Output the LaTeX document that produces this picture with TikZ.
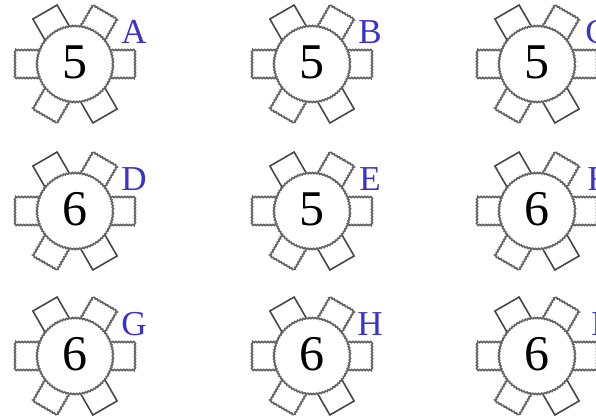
\documentclass[tikz,border=0pt]{standalone}
\usepackage{fontspec}
\setmainfont{Liberation Serif}
\usepackage{tikz}
\usetikzlibrary{positioning,decorations.pathmorphing}
\definecolor{letterblue}{HTML}{3A32CC}
\tikzset{
  chair/.style={draw=black!72,line width=1.6pt},
  fuzzy/.style={draw=black!60,line width=1.7pt,decorate,
    decoration={zigzag,amplitude=.55pt,segment length=3pt}},
  tabletop/.style={fuzzy,fill=white},
  seats/.style={font=\fontsize{50}{50}\selectfont,text=black,inner sep=0pt},
  tag/.style={font=\fontsize{35}{35}\selectfont,text=letterblue,inner sep=0pt}
}
\begin{document}
\begin{tikzpicture}[x=1pt,y=-1pt]
\useasboundingbox (0,0) rectangle (596,418);
\clip (0,0) rectangle (596,418);
% Tables, left to right and top to bottom
\foreach \cx/\cy/\num/\lab/\lx in {75/64/5/A/134, 312/64/5/B/370, 537/64/5/C/597,
                                   75/211/6/D/134, 312/211/5/E/370, 537/211/6/F/597,
                                   75/356/6/G/134, 312/356/6/H/370, 537/356/6/I/597}{
  \begin{scope}[shift={(\cx,\cy)}]
    \foreach \ang in {0,60,180,240}
      \draw[fuzzy,rotate=\ang] (34,-14) rectangle (60,14);
    \foreach \ang in {120,300}
      \draw[chair,rotate=\ang] (34,-14) rectangle (60,14);
    \draw[tabletop] (0,0) circle [radius=38pt];
    \node[seats] (num\lab) at (0,-1.5) {\num};
  \end{scope}
  \node[tag] (tag\lab) at (\lx,\cy-32) {\lab};
}
\end{tikzpicture}
\end{document}
